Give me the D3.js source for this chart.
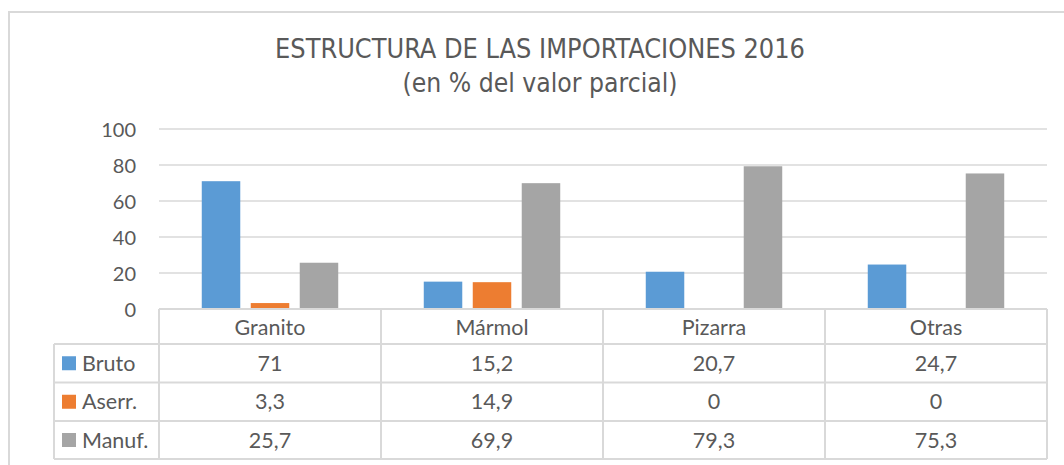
<!DOCTYPE html>
<html><head><meta charset="utf-8">
<script src="https://cdn.jsdelivr.net/npm/d3@7"></script>
<style>html,body{margin:0;padding:0;background:#fff;}svg{display:block;}</style>
</head><body>
<svg id="chart" width="1064" height="465"></svg>
<script>
const categories = ["Granito", "Mármol", "Pizarra", "Otras"];
const seriesNames = ["Bruto", "Aserr.", "Manuf."];
const bruto = [71, 15.2, 20.7, 24.7];
const aserr = [3.3, 14.9, 0, 0];
const manuf = [25.7, 69.9, 79.3, 75.3];
const colors = ["#5b9bd5", "#ed7d31", "#a5a5a5"];
const yTicks = [0, 20, 40, 60, 80, 100];
const titleLines = ["ESTRUCTURA DE LAS IMPORTACIONES 2016", "(en % del valor parcial)"];

(function () {
const series = [bruto, aserr, manuf];
const fmt = v => String(v).replace(".", ",");
const textColor = "#595959", gridColor = "#d9d9d9";

const svg = d3.select("#chart");
// outer chart border
svg.append("rect").attr("x", 9).attr("y", 12).attr("width", 1100).attr("height", 500)
  .attr("fill", "none").attr("stroke", gridColor).attr("stroke-width", 2);

// title
const titleG = svg.append("g");
const titleTargets = [{y: 58, w: 530}, {y: 92, w: 275}];
titleLines.forEach((t, i) => {
  const el = titleG.append("text").attr("x", 540).attr("y", titleTargets[i].y)
    .attr("text-anchor", "middle").attr("fill", textColor)
    .style("font-family", "'DejaVu Sans Condensed', 'DejaVu Sans'").style("font-size", "23px").text(t);
  const w = el.node().getComputedTextLength();
  el.style("font-size", (23 * titleTargets[i].w / w).toFixed(2) + "px");
});

const pLeft = 159, pRight = 1047, pTop = 129, pBottom = 309;
const x0 = d3.scaleBand().domain(categories).range([pLeft, pRight]).padding(0);
const x1 = d3.scaleBand().domain(seriesNames).range([0, x0.bandwidth()])
  .paddingInner(0.214).paddingOuter(0.873);
const y = d3.scaleLinear().domain([0, 100]).range([pBottom, pTop]);

// gridlines
svg.append("g").selectAll("line").data(yTicks.filter(d => d > 0)).join("line")
  .attr("x1", pLeft).attr("x2", pRight).attr("y1", d => y(d)).attr("y2", d => y(d))
  .attr("stroke", gridColor).attr("stroke-width", 1.5);

// y axis
const yAxis = svg.append("g").attr("transform", `translate(${pLeft - 23},0)`)
  .call(d3.axisLeft(y).tickValues(yTicks).tickSize(0).tickPadding(0));
yAxis.select(".domain").remove();
yAxis.selectAll("text").attr("fill", textColor).style("font-family", "Lato")
  .style("font-size", "20px").attr("dy", "0.35em");

// bars
const barG = svg.append("g");
categories.forEach((c, ci) => {
  seriesNames.forEach((s, si) => {
    const v = series[si][ci];
    if (v <= 0) return;
    barG.append("rect").attr("x", x0(c) + x1(s)).attr("width", x1.bandwidth())
      .attr("y", y(v)).attr("height", y(0) - y(v)).attr("fill", colors[si]);
  });
});

// data table
const rowH = [35, 38.5, 38.5, 38];
const rowTop = [pBottom];
for (let i = 0; i < 4; i++) rowTop.push(rowTop[i] + rowH[i]);
const tableLeft = 54;
const tg = svg.append("g");
const lineStyle = sel => sel.attr("stroke", gridColor).attr("stroke-width", 2).attr("fill", "none");
tg.append("line").attr("x1", pLeft).attr("x2", pRight).attr("y1", rowTop[0]).attr("y2", rowTop[0]).call(lineStyle);
for (let i = 1; i <= 4; i++) {
  tg.append("line").attr("x1", tableLeft).attr("x2", pRight).attr("y1", rowTop[i]).attr("y2", rowTop[i]).call(lineStyle);
}
tg.append("line").attr("x1", tableLeft).attr("x2", tableLeft).attr("y1", rowTop[1]).attr("y2", rowTop[4]).call(lineStyle);
const vx = [pLeft, ...categories.map(c => x0(c) + x0.bandwidth())];
vx.forEach(xv => tg.append("line").attr("x1", xv).attr("x2", xv).attr("y1", rowTop[0]).attr("y2", rowTop[4]).call(lineStyle));

const txt = (xx, yy, t, anchor) => tg.append("text").attr("x", xx).attr("y", yy).attr("dy", "0.35em")
  .attr("text-anchor", anchor).attr("fill", textColor)
  .style("font-family", "Lato").style("font-size", "21.5px").text(t);

categories.forEach(c => txt(x0(c) + x0.bandwidth() / 2, (rowTop[0] + rowTop[1]) / 2 + 1, c, "middle"));
seriesNames.forEach((s, si) => {
  const cy = (rowTop[si + 1] + rowTop[si + 2]) / 2;
  tg.append("rect").attr("x", 62).attr("y", cy - 7).attr("width", 14).attr("height", 14).attr("fill", colors[si]);
  txt(82, cy, s, "start");
  categories.forEach((c, ci) => txt(x0(c) + x0.bandwidth() / 2, cy, fmt(series[si][ci]), "middle"));
});
})();
</script>
</body></html>
